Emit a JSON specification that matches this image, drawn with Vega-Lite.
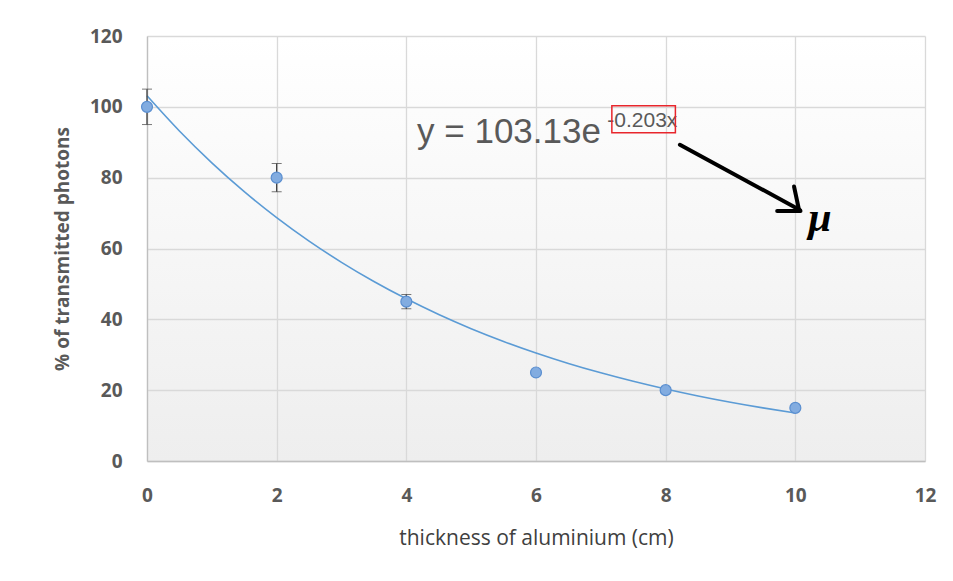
{
  "$schema": "https://vega.github.io/schema/vega-lite/v6.json",
  "width": 778,
  "height": 425,
  "autosize": {"type": "none"},
  "padding": {"left": 147, "top": 36, "right": 28, "bottom": 120},
  "background": "white",
  "config": {
    "view": {"stroke": null, "fill": {"gradient": "linear", "x1": 0, "y1": 0, "x2": 0, "y2": 1, "stops": [{"offset": 0, "color": "#ffffff"}, {"offset": 1, "color": "#eeeeee"}]}},
    "axis": {"gridColor": "#d9d9d9", "gridWidth": 1.3, "domainColor": "#bfbfbf", "domainWidth": 1.3, "ticks": false, "labelFlush": false, "labelFont": "Open Sans", "labelFontWeight": "bold", "labelFontSize": 19, "labelColor": "#595959", "titleFont": "Open Sans", "titleColor": "#595959", "titleFontSize": 19}
  },
  "datasets": {
    "obs": [
      {"thickness": 0, "pct": 100, "lo": 95, "hi": 105},
      {"thickness": 2, "pct": 80, "lo": 76, "hi": 84},
      {"thickness": 4, "pct": 45, "lo": 43, "hi": 47},
      {"thickness": 6, "pct": 25, "lo": 25, "hi": 25},
      {"thickness": 8, "pct": 20, "lo": 20, "hi": 20},
      {"thickness": 10, "pct": 15, "lo": 15, "hi": 15}
    ],
    "trend": [
      {"thickness": 0, "pct": 103.13}, {"thickness": 0.5, "pct": 93.18}, {"thickness": 1, "pct": 84.19},
      {"thickness": 1.5, "pct": 76.06}, {"thickness": 2, "pct": 68.72}, {"thickness": 2.5, "pct": 62.09},
      {"thickness": 3, "pct": 56.10}, {"thickness": 3.5, "pct": 50.68}, {"thickness": 4, "pct": 45.79},
      {"thickness": 4.5, "pct": 41.37}, {"thickness": 5, "pct": 37.37}, {"thickness": 5.5, "pct": 33.77},
      {"thickness": 6, "pct": 30.51}, {"thickness": 6.5, "pct": 27.56}, {"thickness": 7, "pct": 24.90},
      {"thickness": 7.5, "pct": 22.50}, {"thickness": 8, "pct": 20.33}, {"thickness": 8.5, "pct": 18.37},
      {"thickness": 9, "pct": 16.59}, {"thickness": 9.5, "pct": 14.99}, {"thickness": 10, "pct": 13.54}
    ],
    "arrows": [
      {"x": 8.22, "y": 89.3, "x2": 10.07, "y2": 70.9},
      {"x": 9.72, "y": 70.6, "x2": 10.08, "y2": 70.6},
      {"x": 9.98, "y": 77.5, "x2": 10.06, "y2": 70.6}
    ],
    "box": [{"x": 7.17, "x2": 8.15, "y": 100.3, "y2": 92.7}]
  },
  "layer": [
    {
      "data": {"name": "trend"},
      "mark": {"type": "line", "color": "#5b9bd5", "strokeWidth": 1.6, "interpolate": "monotone"},
      "encoding": {
        "x": {"field": "thickness", "type": "quantitative", "scale": {"domain": [0, 12], "nice": false},
          "axis": {"values": [0, 2, 4, 6, 8, 10, 12], "format": "d", "title": "thickness of aluminium (cm)", "labelPadding": 25, "titlePadding": 22, "titleFontWeight": "normal", "titleFontSize": 21, "titleColor": "#404040"}},
        "y": {"field": "pct", "type": "quantitative", "scale": {"domain": [0, 120], "nice": false},
          "axis": {"values": [0, 20, 40, 60, 80, 100, 120], "format": "d", "title": "% of transmitted photons", "labelPadding": 25, "titlePadding": 17, "titleFontWeight": "bold"}}
      }
    },
    {
      "data": {"name": "obs"},
      "mark": {"type": "errorbar", "ticks": {"size": 10, "color": "#404040"}, "rule": {"color": "#404040", "strokeWidth": 1.3}},
      "encoding": {
        "x": {"field": "thickness", "type": "quantitative"},
        "y": {"field": "lo", "type": "quantitative", "title": "% of transmitted photons"},
        "y2": {"field": "hi"}
      }
    },
    {
      "data": {"name": "obs"},
      "mark": {"type": "point", "filled": true, "size": 120, "fill": "#82ace0", "stroke": "#5b8fd0", "strokeWidth": 1.2, "opacity": 1},
      "encoding": {
        "x": {"field": "thickness", "type": "quantitative"},
        "y": {"field": "pct", "type": "quantitative"}
      }
    },
    {
      "data": {"values": [{"x": 4.165, "y": 89.8, "t": "y = 103.13e"}]},
      "mark": {"type": "text", "align": "left", "baseline": "alphabetic", "font": "Liberation Sans", "fontSize": 35, "color": "#595959"},
      "encoding": {"x": {"field": "x", "type": "quantitative"}, "y": {"field": "y", "type": "quantitative"}, "text": {"field": "t"}}
    },
    {
      "data": {"values": [{"x": 7.1, "y": 94.4, "t": "-0.203x"}]},
      "mark": {"type": "text", "align": "left", "baseline": "alphabetic", "font": "Liberation Sans", "fontSize": 21, "color": "#595959"},
      "encoding": {"x": {"field": "x", "type": "quantitative"}, "y": {"field": "y", "type": "quantitative"}, "text": {"field": "t"}}
    },
    {
      "data": {"name": "box"},
      "mark": {"type": "rect", "fill": null, "fillOpacity": 0, "stroke": "#e8262c", "strokeWidth": 1.5},
      "encoding": {"x": {"field": "x", "type": "quantitative"}, "x2": {"field": "x2"}, "y": {"field": "y", "type": "quantitative"}, "y2": {"field": "y2"}}
    },
    {
      "data": {"name": "arrows"},
      "mark": {"type": "rule", "color": "#000000", "strokeWidth": 4, "strokeCap": "round"},
      "encoding": {"x": {"field": "x", "type": "quantitative"}, "x2": {"field": "x2"}, "y": {"field": "y", "type": "quantitative"}, "y2": {"field": "y2"}}
    },
    {
      "data": {"values": [{"x": 10.2, "y": 68.5, "t": "μ"}]},
      "mark": {"type": "text", "align": "left", "baseline": "middle", "font": "Liberation Serif", "fontStyle": "italic", "fontWeight": "bold", "fontSize": 42, "color": "#000000"},
      "encoding": {"x": {"field": "x", "type": "quantitative"}, "y": {"field": "y", "type": "quantitative"}, "text": {"field": "t"}}
    }
  ]
}
